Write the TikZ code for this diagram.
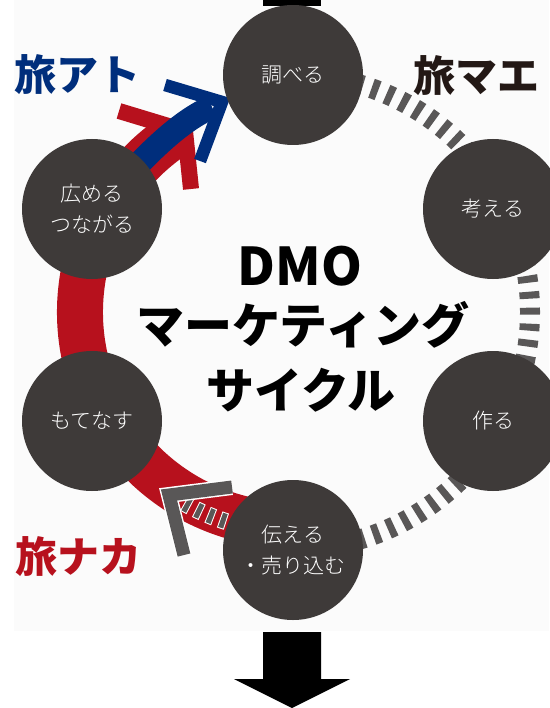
\documentclass[tikz,border=0pt]{standalone}
\usepackage{fontspec}
\newfontfamily\jp{Noto Sans CJK JP}
\newfontfamily\jpl{Noto Sans CJK JP Light}
\usetikzlibrary{calc}
\definecolor{circ}{HTML}{3E3A39}
\definecolor{tabired}{HTML}{B7111D}
\definecolor{tabiblue}{HTML}{002E7C}
\definecolor{tabidark}{HTML}{231815}
\definecolor{stripe}{HTML}{595757}
\definecolor{bgpale}{HTML}{FBFBFB}
\begin{document}
\begin{tikzpicture}[x=1pt,y=-1pt,
  stage/.style={circle, fill=circ, minimum size=140pt, inner sep=0pt, text=white,
    font=\jpl\fontsize{21}{31}\selectfont, align=center},
  phase/.style={font=\jp\bfseries\fontsize{42}{42}\selectfont, inner sep=0pt},
  titletext/.style={font=\jp\bfseries\fontsize{48}{48}\selectfont, inner sep=0pt, text=black},
  redband/.style={draw=tabired, line width=46pt},
  redchev/.style={draw=tabired, line width=16pt, line join=miter},
  blueband/.style={draw=tabiblue, line width=24pt},
  bluechev/.style={draw=tabiblue, line width=12.5pt, line join=miter},
  graydash/.style={draw=stripe, line width=20pt, dash pattern=on 7pt off 9pt},
  whiteedge/.style={draw=white, line width=17pt, dash pattern=on 7pt off 6pt},
  grayshort/.style={draw=stripe, line width=15pt, dash pattern=on 5pt off 8pt, dash phase=12pt},
  graychevw/.style={draw=white, line width=16pt, line join=miter},
  graychev/.style={draw=stripe, line width=13pt, line join=miter},
]
\useasboundingbox (0,0) rectangle (549,708);
\fill[bgpale] (14,0) rectangle (549,631);

\coordinate (O) at (293,312);

% red band (旅ナカ -> 旅アト)
\draw[redband] (O) ++(100:213) arc[start angle=100, end angle=236, radius=213];
\coordinate (ra1) at (119,111);
\coordinate (rtip) at (185,131);
\coordinate (ra2) at (191,189);
\draw[redchev] (ra1) -- (rtip) -- (ra2);

% blue arrow
\coordinate (b0) at (115,190);
\coordinate (b1) at (150,150);
\coordinate (b2) at (182,120);
\coordinate (b3) at (212,107);
\draw[blueband] (b0) .. controls (b1) and (b2) .. (b3);
\coordinate (ba1) at (165,85);
\coordinate (btip) at (222,102);
\coordinate (ba2) at (200,161);
\draw[bluechev] (ba1) -- (btip) -- (ba2);

% gray dashed cycle (right side)
\draw[graydash] (O) ++(-90:237) arc[start angle=-90, end angle=90, radius=237];

% gray short dashes on red band, and gray chevron
\draw[whiteedge] (O) ++(123:220) arc[start angle=123, end angle=100, radius=220];
\draw[grayshort] (O) ++(123:220) arc[start angle=123, end angle=100, radius=220];
\coordinate (ga1) at (232,487);
\coordinate (gtip) at (169,495);
\coordinate (ga2) at (184,555);
\draw[graychevw] (ga1) -- (gtip) -- (ga2);
\draw[graychev] (ga1) -- (gtip) -- (ga2);

% black arrows
\fill[black] (263,0) rectangle (321,6);
\fill[black] (263,632) -- (321,632) -- (321,679) -- (350,679) -- (292,708)
  -- (234,679) -- (263,679) -- cycle;

% stages
\node[stage] (shiraberu) at (293,75) {調べる};
\node[stage] (kangaeru) at (493,209) {考える};
\node[stage] (tsukuru) at (493,421) {作る};
\node[stage] (tsutaeru) at (293,550) {伝える\\・売り込む};
\node[stage] (motenasu) at (92,421) {もてなす};
\node[stage] (hiromeru) at (92,209) {広める\\つながる};

% phase labels
\node[phase, text=tabiblue] (ato) at (77,75) {旅アト};
\node[phase, text=tabidark] (mae) at (476,76) {旅マエ};
\node[phase, text=tabired] (naka) at (78,557) {旅ナカ};

% title
\node[titletext, font=\jp\bfseries\fontsize{52}{52}\selectfont] (dmo) at (300,266) {DMO};
\node[titletext] (marketing) at (303,325) {マーケティング};
\node[titletext] (cycle) at (301,390) {サイクル};
\end{tikzpicture}
\end{document}
